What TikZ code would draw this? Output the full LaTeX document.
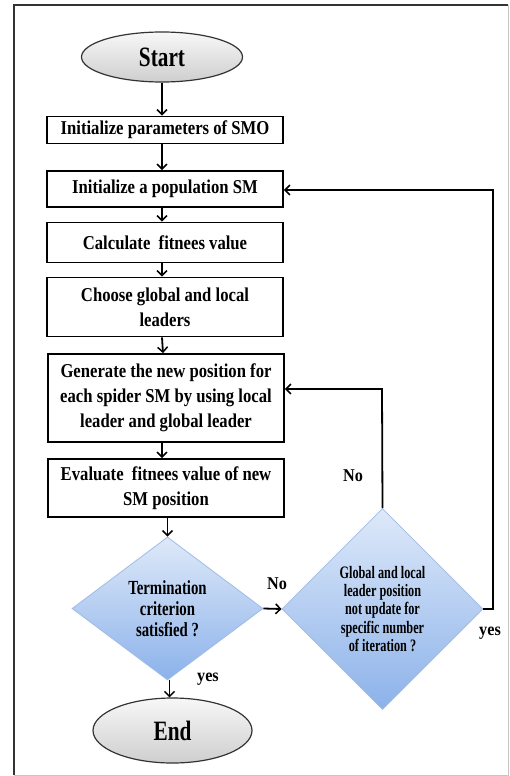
\documentclass[tikz,border=0pt]{standalone}
\usepackage{fontspec}
\setmainfont{Liberation Serif}
\newfontfamily\fStart[FakeStretch=0.76]{Liberation Serif}
\newfontfamily\fBox[FakeStretch=0.85]{Liberation Serif}
\newfontfamily\fDa[FakeStretch=0.74]{Liberation Serif}
\newfontfamily\fDb[FakeStretch=0.70]{Liberation Serif}
\newfontfamily\fLab[FakeStretch=0.90]{Liberation Serif}
\usetikzlibrary{shapes.geometric,arrows.meta}
\definecolor{dtop}{RGB}{222,233,249}
\definecolor{dbot}{RGB}{140,178,234}
\definecolor{dborder}{RGB}{160,188,228}
\begin{document}
\begin{tikzpicture}[x=1pt,y=-1pt,
  proc/.style={draw=black,line width=1.8pt,fill=white,rectangle,minimum width=236pt,inner sep=0pt,align=center,font=\fBox\bfseries\fontsize{19.6}{25}\selectfont},
  term/.style={ellipse,draw=black!80,line width=1.2pt,top color=gray!6,bottom color=gray!38,inner sep=0pt,font=\fStart\bfseries\fontsize{28}{30}\selectfont},
  dec/.style={diamond,draw=dborder,line width=0.8pt,top color=dtop,bottom color=dbot,inner sep=0pt,align=center},
  lab/.style={font=\fLab\bfseries\fontsize{18}{20}\selectfont,inner sep=0pt},
  conn/.style={line width=1.8pt,-{Straight Barb[length=5pt,width=10pt,line width=1.5pt]}},
  line/.style={line width=1.8pt}]
\useasboundingbox (0,0) rectangle (509,776);
\fill[white] (0,0) rectangle (509,776);
% frame
\draw[line width=1pt,gray!45] (508,5) -- (508,775) -- (14,775);
\draw[line width=2pt,black!80] (14,775) -- (14,5) -- (508,5);
% nodes
\node[term,minimum width=161pt,minimum height=50pt] (start) at (162,57) {Start};
\node[proc,minimum height=27pt] (b1) at (165,130) {Initialize parameters of SMO};
\node[proc,minimum height=36pt] (b2) at (165,189) {Initialize a population SM};
\node[proc,minimum height=40pt] (b3) at (165,242.5) {Calculate\ \ fitnees value};
\node[proc,minimum height=59pt] (b4) at (165,307) {Choose global and local\\leaders};
\node[proc,minimum height=88pt] (b5) at (166,398) {Generate the new position for\\each spider SM by using local\\leader and global leader};
\node[proc,minimum height=58pt] (b6) at (166,488) {Evaluate\ \ fitnees value of new\\SM position};
\node[dec,minimum width=191pt,minimum height=143pt,font=\fDa\bfseries\fontsize{20}{21}\selectfont] (d1) at (167.5,608.5) {Termination\\criterion\\satisfied ?};
\node[dec,minimum width=201pt,minimum height=201pt,font=\fDb\bfseries\fontsize{17.5}{18.3}\selectfont] (d2) at (382.5,609) {Global and local\\leader position\\not update for\\specific number\\of iteration ?};
\node[term,minimum width=159pt,minimum height=65pt] (end) at (172.5,730.5) {End};
% connectors
\draw[conn] (start.south) -- (start.south |- b1.north);
\draw[conn] ([xshift=-3pt]b1.south) -- ([xshift=-3pt]b2.north);
\draw[conn] ([xshift=-3pt]b2.south) -- ([xshift=-3pt]b3.north);
\draw[conn] ([xshift=-3pt]b3.south) -- ([xshift=-3pt]b4.north);
\draw[conn] ([xshift=-3pt]b4.south) -- ([xshift=-3pt]b5.north);
\draw[conn] ([xshift=-4pt]b5.south) -- ([xshift=-4pt]b6.north);
\draw[conn] (b6.south -| d1.north) -- (d1.north);
\draw[conn] ([xshift=2pt]d1.south) -- ([xshift=2pt]d1.south |- end.north);
\draw[conn] (d1.east) -- (d2.west);
\coordinate (c1) at (382,389);
\draw[conn] (d2.north) -- (c1) -- (c1 -| b5.east);
\coordinate (c2) at (493,190);
\draw[conn] (d2.east) -- (d2.east -| c2) -- (c2) -- (c2 -| b2.east);
% labels
\node[lab] (lno1) at (277,584) {No};
\node[lab] (lno2) at (353,476) {No};
\node[lab] (lyes1) at (208,679) {yes};
\node[lab] (lyes2) at (490,633) {yes};
\end{tikzpicture}
\end{document}
